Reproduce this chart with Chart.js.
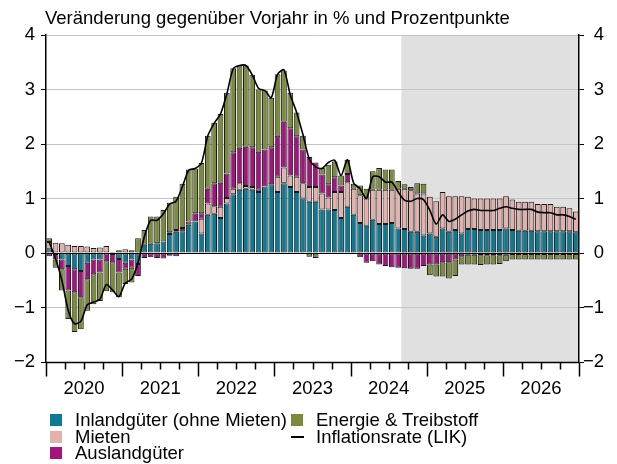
<!DOCTYPE html>
<html><head><meta charset="utf-8">
<script src="https://cdn.jsdelivr.net/npm/chart.js@4"></script>
<style>
html,body{margin:0;padding:0;background:#fff;}
#wrap{position:relative;width:617px;height:464px;overflow:hidden;font-family:"Liberation Sans",Arial,sans-serif;color:#000;}
canvas{position:absolute;left:0;top:0;}
.t{position:absolute;font-size:18.5px;line-height:18px;white-space:nowrap;}
.sq{position:absolute;width:12px;height:12px;}
.ln{position:absolute;width:13px;height:2px;background:#000;}
</style></head><body>
<div id="wrap">
<canvas id="c" width="617" height="464"></canvas>
<div class="t" id="title" style="left:45px;top:9px"></div>
<div id="legend"></div>
</div>
<script>
const months = [
'2020-01','2020-02','2020-03','2020-04','2020-05','2020-06','2020-07','2020-08','2020-09','2020-10','2020-11','2020-12',
'2021-01','2021-02','2021-03','2021-04','2021-05','2021-06','2021-07','2021-08','2021-09','2021-10','2021-11','2021-12',
'2022-01','2022-02','2022-03','2022-04','2022-05','2022-06','2022-07','2022-08','2022-09','2022-10','2022-11','2022-12',
'2023-01','2023-02','2023-03','2023-04','2023-05','2023-06','2023-07','2023-08','2023-09','2023-10','2023-11','2023-12',
'2024-01','2024-02','2024-03','2024-04','2024-05','2024-06','2024-07','2024-08','2024-09','2024-10','2024-11','2024-12',
'2025-01','2025-02','2025-03','2025-04','2025-05','2025-06','2025-07','2025-08','2025-09','2025-10','2025-11','2025-12',
'2026-01','2026-02','2026-03','2026-04','2026-05','2026-06','2026-07','2026-08','2026-09','2026-10','2026-11','2026-12'];

const inland = [
 0.07,-0.02,-0.12,-0.24,-0.30,-0.33,-0.18,-0.12,-0.12, 0.00,-0.02,-0.11,
-0.18,-0.12,-0.20, 0.15, 0.17, 0.18, 0.21, 0.35, 0.39, 0.40, 0.52, 0.58,
 0.36, 0.70, 0.72, 0.64, 0.91, 1.08, 1.16, 1.18, 1.16, 1.12, 1.22, 1.26,
 1.12, 1.28, 1.21, 1.12, 1.00, 0.94, 0.94, 0.80, 0.80, 0.79, 0.64, 0.85,
 0.70, 0.55, 0.50, 0.61, 0.53, 0.53, 0.55, 0.45, 0.44, 0.39, 0.39, 0.32,
 0.36, 0.30, 0.45, 0.39, 0.42, 0.36, 0.44, 0.44, 0.42, 0.42, 0.42, 0.42,
 0.45, 0.42, 0.41, 0.41, 0.41, 0.40, 0.40, 0.40, 0.40, 0.40, 0.40, 0.38];
const mieten = [
 0.13, 0.19, 0.18, 0.15, 0.13, 0.13, 0.12, 0.09, 0.10, 0.13, 0.02, 0.05,
 0.07, 0.05, 0.00, 0.00, 0.00, 0.00, 0.00, 0.03, 0.03, 0.00, 0.00, 0.00,
 0.27, 0.21, 0.14, 0.21, 0.10, 0.10, 0.12, 0.05, 0.05, 0.04, 0.00, 0.00,
 0.28, 0.29, 0.21, 0.28, 0.28, 0.27, 0.27, 0.29, 0.22, 0.33, 0.48, 0.45,
 0.48, 0.51, 0.50, 0.55, 0.63, 0.63, 0.61, 0.73, 0.74, 0.76, 0.70, 0.77,
 0.67, 0.65, 0.67, 0.65, 0.62, 0.68, 0.59, 0.56, 0.58, 0.58, 0.58, 0.58,
 0.59, 0.56, 0.53, 0.53, 0.53, 0.50, 0.50, 0.50, 0.45, 0.45, 0.42, 0.38];
const ausland = [
-0.06,-0.10,-0.18,-0.45,-0.42,-0.48,-0.30,-0.27,-0.24,-0.15,-0.15,-0.25,
-0.11,-0.15,-0.22,-0.09,-0.08,-0.09,-0.10,-0.05,-0.06, 0.06, 0.06, 0.15,
 0.10, 0.27, 0.42, 0.44, 0.45, 0.67, 0.65, 0.72, 0.73, 0.70, 0.68, 0.68,
 0.75, 0.84, 0.87, 0.74, 0.62, 0.55, 0.45, 0.35, 0.24, 0.27, 0.12, 0.15,
 0.00,-0.08,-0.18,-0.15,-0.21,-0.24,-0.26,-0.27,-0.28,-0.29,-0.29,-0.24,
-0.21,-0.21,-0.17,-0.17,-0.12,-0.06,-0.03,-0.03,-0.04,-0.04,-0.04,-0.04,
-0.03,-0.02,-0.02,-0.02,-0.02,-0.02,-0.02,-0.02,-0.02,-0.02,-0.02,-0.02];
const energie = [
 0.07,-0.15,-0.39,-0.52,-0.73,-0.59,-0.58,-0.55,-0.52,-0.55,-0.55,-0.45,
-0.28,-0.27, 0.27, 0.27, 0.50, 0.49, 0.58, 0.54, 0.61, 0.81, 0.95, 0.82,
 0.92, 0.97, 1.11, 1.26, 1.48, 1.54, 1.51, 1.49, 1.33, 1.14, 1.08, 0.91,
 1.13, 0.94, 0.65, 0.44, 0.25,-0.07,-0.09, 0.12, 0.36, 0.29, 0.18, 0.26,
 0.09, 0.18, 0.18, 0.34, 0.40, 0.37, 0.37, 0.14, 0.08, 0.06, 0.19, 0.18,
-0.20,-0.22,-0.26,-0.30,-0.30,-0.15,-0.18,-0.18,-0.18,-0.17,-0.17,-0.16,
-0.12,-0.10,-0.10,-0.10,-0.10,-0.10,-0.10,-0.10,-0.10,-0.10,-0.10,-0.10];
const lik = [
 0.20,-0.10,-0.50,-1.05,-1.30,-1.25,-0.95,-0.90,-0.85,-0.58,-0.68,-0.80,
-0.55,-0.48,-0.18, 0.30, 0.60, 0.60, 0.72, 0.90, 0.95, 1.22, 1.52, 1.55,
 1.65, 2.15, 2.38, 2.55, 2.92, 3.38, 3.44, 3.44, 3.27, 3.02, 2.98, 2.85,
 3.28, 3.36, 2.90, 2.58, 2.17, 1.72, 1.58, 1.55, 1.66, 1.70, 1.42, 1.71,
 1.28, 1.18, 1.00, 1.40, 1.40, 1.30, 1.30, 1.12, 0.97, 0.95, 1.00, 0.98,
 0.78, 0.53, 0.70, 0.58, 0.62, 0.70, 0.77, 0.80, 0.78, 0.78, 0.78, 0.82,
 0.85, 0.82, 0.80, 0.80, 0.80, 0.75, 0.74, 0.74, 0.70, 0.70, 0.67, 0.62];

const yearLabels = ['2020','2021','2022','2023','2024','2025','2026'];
const yTickValues = [-2,-1,0,1,2,3,4];
const forecastStart = '2024-09';
const titleText = 'Veränderung gegenüber Vorjahr in % und Prozentpunkte';
const seriesNames = ['Inlandgüter (ohne Mieten)','Mieten','Auslandgüter','Energie & Treibstoff','Inflationsrate (LIK)'];
const seriesColors = ['#0b7a95','#e3b1ac','#a3147f','#7b8b3c','#000000'];

document.getElementById('title').textContent = titleText;

const legendPos = [[50,75,411],[50,75,428],[50,75,444],[291,316,411],[291,316,428]];
const lg = document.getElementById('legend');
seriesNames.forEach((n,i)=>{
  const [sx,tx,ty] = legendPos[i];
  const m = document.createElement('div');
  if(i<4){ m.className='sq'; m.style.left=sx+'px'; m.style.top=(ty+3)+'px'; m.style.background=seriesColors[i]; }
  else { m.className='ln'; m.style.left=sx+'px'; m.style.top=(ty+8)+'px'; }
  lg.appendChild(m);
  const t = document.createElement('div');
  t.className='t'; t.style.left=tx+'px'; t.style.top=ty+'px'; t.textContent=n;
  lg.appendChild(t);
});

const FONT = {family:'"Liberation Sans", Arial, sans-serif', size:18.5};
const fmt = v => v < 0 ? '\u2212' + Math.abs(v) : String(v);

const deco = {
  id:'deco',
  beforeDraw(chart){
    const {ctx, chartArea:a, scales:{x}} = chart;
    const step = x.getPixelForValue(1) - x.getPixelForValue(0);
    const fx = x.getPixelForValue(months.indexOf(forecastStart)) - step/2;
    ctx.save();
    ctx.fillStyle = '#e0e0e0';
    ctx.fillRect(fx, a.top, a.right - fx, a.bottom - a.top);
    ctx.restore();
  },
  afterDraw(chart){
    const {ctx, chartArea:a, scales:{x}} = chart;
    const step = x.getPixelForValue(1) - x.getPixelForValue(0);
    const y0 = Math.round(a.bottom) + 0.5;
    ctx.save();
    ctx.strokeStyle = '#000';
    ctx.lineWidth = 1.5;
    ctx.beginPath();
    ctx.moveTo(a.left, y0); ctx.lineTo(a.right, y0);
    for(let i=0;i<=months.length;i+=3){
      const px = Math.round(x.getPixelForValue(i) - step/2) + 0.5;
      ctx.moveTo(px, y0);
      ctx.lineTo(px, y0 + (i%12===0 ? 14 : 7));
    }
    ctx.stroke();
    ctx.fillStyle = '#000';
    ctx.font = '18.5px "Liberation Sans", Arial, sans-serif';
    ctx.textAlign = 'center';
    ctx.textBaseline = 'middle';
    yearLabels.forEach(yr=>{
      const i0 = months.indexOf(yr+'-01');
      const cx = x.getPixelForValue(i0) - step/2 + 6*step;
      ctx.fillText(yr, cx, y0 + 26);
    });
    ctx.restore();
  }
};

const barBase = {borderColor:'#1a1a1a', borderWidth:1, borderSkipped:false, stack:'s', order:1,
                 barPercentage:0.9, categoryPercentage:1.0};
const seriesData = [inland, mieten, ausland, energie];
const datasets = seriesData.map((d,i)=>Object.assign({}, barBase, {
  type:'bar', label:seriesNames[i], data:d, backgroundColor:seriesColors[i]
}));
datasets.push({type:'line', label:seriesNames[4], data:lik, borderColor:'#000', borderWidth:1.6,
  pointRadius:0, tension:0.25, stack:'line', order:0, fill:false});

new Chart(document.getElementById('c'), {
  type:'bar',
  data:{labels:months, datasets},
  options:{
    responsive:false, animation:false, devicePixelRatio:1,
    layout:{padding:{left:0,right:13,top:35,bottom:102}},
    plugins:{legend:{display:false}, tooltip:{enabled:false}},
    scales:{
      x:{display:false, stacked:true},
      y:{position:'left', stacked:true, min:-2, max:4,
         afterBuildTicks(s){ s.ticks = yTickValues.map(v=>({value:v})); },
         ticks:{color:'#000', font:FONT, padding:6, callback:fmt},
         grid:{color:c=>c.tick && c.tick.value===0 ? '#000' : '#c4c4c4', lineWidth:1, tickLength:5, tickColor:'#000'},
         border:{color:'#000', width:1.5},
         afterFit(s){ s.width = 46; }
      },
      y2:{position:'right', min:-2, max:4,
         afterBuildTicks(s){ s.ticks = yTickValues.map(v=>({value:v})); },
         ticks:{color:'#000', font:FONT, padding:6, crossAlign:'far', callback:fmt},
         grid:{drawOnChartArea:false, tickLength:5, tickColor:'#000'},
         border:{color:'#000', width:1.5},
         afterFit(s){ s.width = 25; }
      }
    }
  },
  plugins:[deco]
});
</script>
</body></html>
